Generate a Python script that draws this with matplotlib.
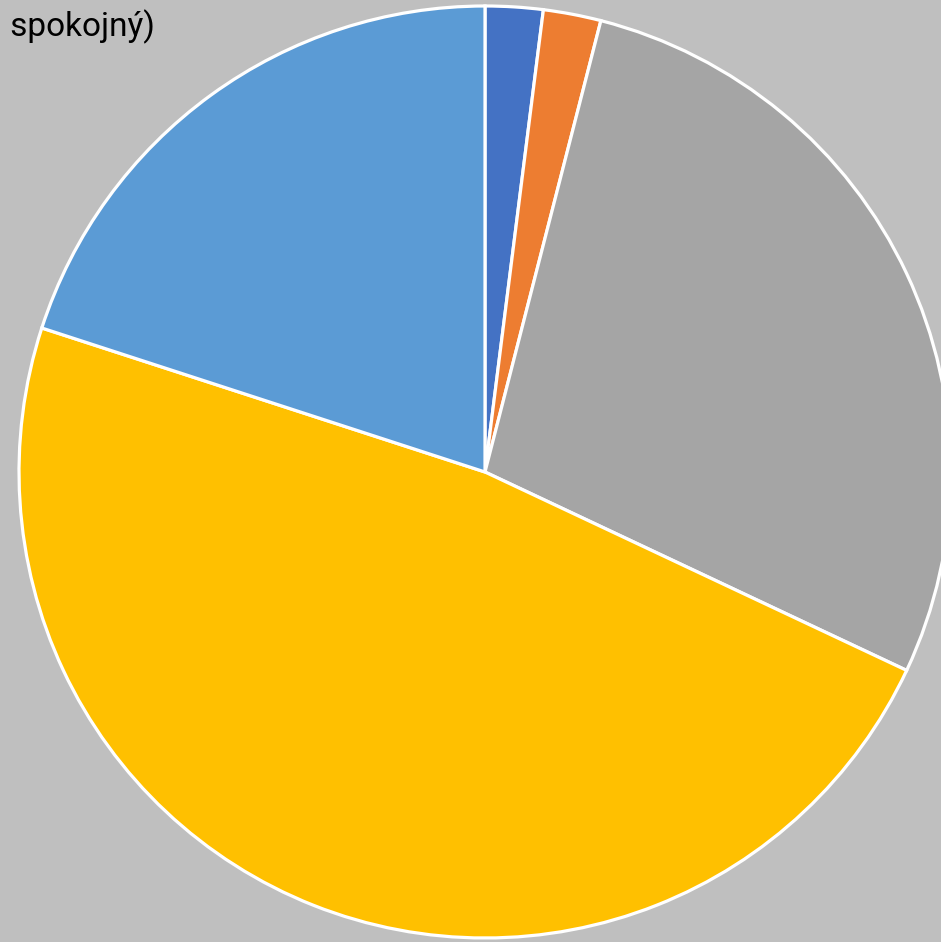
import matplotlib.pyplot as plt

# slice values, clockwise from the top
labels = ['velmi spokojený', 'spokojený', 'nespokojený', 'velmi nespokojený',
          '(ani nespokojný, ani spokojný)']
values = [2, 2, 28, 48, 20]
colors = ['#4472C4', '#ED7D31', '#A5A5A5', '#FFC000', '#5B9BD5']

fig = plt.figure(figsize=(9.41, 9.42), dpi=100, facecolor='#BFBFBF')
ax = fig.add_axes([0, 0, 1, 1])
ax.set_facecolor('#BFBFBF')

ax.pie(values, colors=colors, startangle=90, counterclock=False,
       center=(485, 470), radius=466,
       wedgeprops={'edgecolor': 'white', 'linewidth': 2.3})

ax.set_xlim(0, 941)
ax.set_ylim(0, 942)
ax.set_aspect('equal')
ax.axis('off')

# legend text cut off at the top left, as in the original
ax.text(155, 915, labels[4], ha='right', va='center', fontsize=24,
        family=['Roboto', 'DejaVu Sans'], color='black')

plt.savefig('out.png', dpi=100, facecolor='#BFBFBF')
